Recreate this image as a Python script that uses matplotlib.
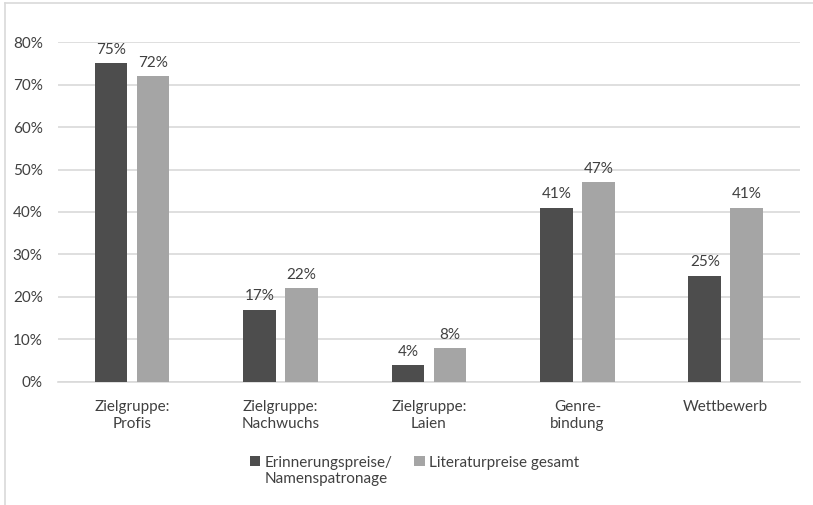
import matplotlib.pyplot as plt
import numpy as np
from matplotlib.lines import Line2D

# Categories and series values (fractions)
categories = ['Zielgruppe:\nProfis', 'Zielgruppe:\nNachwuchs', 'Zielgruppe:\nLaien',
              'Genre-\nbindung', 'Wettbewerb']
erinnerung = [0.75, 0.17, 0.04, 0.41, 0.25]
gesamt = [0.72, 0.22, 0.08, 0.47, 0.41]
series_names = ['Erinnerungspreise/\nNamenspatronage', 'Literaturpreise gesamt']
y_ticks = [0, 0.1, 0.2, 0.3, 0.4, 0.5, 0.6, 0.7, 0.8]

plt.rcParams['font.family'] = ['Lato', 'DejaVu Sans']
text_color = '#404040'
fs = 11

fig = plt.figure(figsize=(8.13, 5.05), dpi=100)
ax = fig.add_axes([0.0713, 0.2436, 0.9127, 0.6732])

x = np.arange(len(categories))
width = 0.22
offset = 0.1415
bars1 = ax.bar(x - offset, erinnerung, width, color='#4d4d4d', label=series_names[0], zorder=3)
bars2 = ax.bar(x + offset, gesamt, width, color='#a5a5a5', label=series_names[1], zorder=3)

for bars, vals in ((bars1, erinnerung), (bars2, gesamt)):
    for b, v in zip(bars, vals):
        ax.annotate(f'{round(v * 100)}%', (b.get_x() + b.get_width() / 2, v),
                    xytext=(0, 4.5), textcoords='offset points', ha='center', va='bottom',
                    fontsize=fs, color=text_color)

ax.set_xlim(-0.5, len(categories) - 0.5)
ax.set_ylim(0, 0.8)
ax.set_yticks(y_ticks)
ax.set_yticklabels([f'{round(t * 100)}%' for t in y_ticks])
ax.set_xticks(x)
ax.set_xticklabels(categories, linespacing=1.3)
ax.tick_params(axis='both', length=0, labelsize=fs, labelcolor=text_color)
ax.tick_params(axis='y', pad=11)
ax.tick_params(axis='x', pad=13)
ax.yaxis.grid(True, color='#d9d9d9', linewidth=1.2, zorder=0)
ax.set_axisbelow(True)
for side in ('top', 'right', 'left'):
    ax.spines[side].set_visible(False)
ax.spines['bottom'].set_color('#d9d9d9')
ax.spines['bottom'].set_linewidth(1.2)

leg = fig.legend(loc='upper center', bbox_to_anchor=(0.51, 0.125), ncol=2, frameon=False,
                 fontsize=fs, handlelength=0.7, handleheight=0.7, handletextpad=0.3,
                 columnspacing=1.4, labelcolor=text_color)
# align square markers with the first text line, columns aligned at top
leg._legend_handle_box.align = 'top'
for col in leg._legend_handle_box.get_children():
    col.align = 'left'
    for item in col.get_children():
        item.align = 'top'

# chart border (top and left visible)
fig.add_artist(Line2D([5 / 813, 5 / 813], [0, 1 - 3 / 505], color='#d9d9d9', linewidth=1.2))
fig.add_artist(Line2D([5 / 813, 1], [1 - 3 / 505, 1 - 3 / 505], color='#d9d9d9', linewidth=1.2))

fig.savefig('out.png', dpi=100)
